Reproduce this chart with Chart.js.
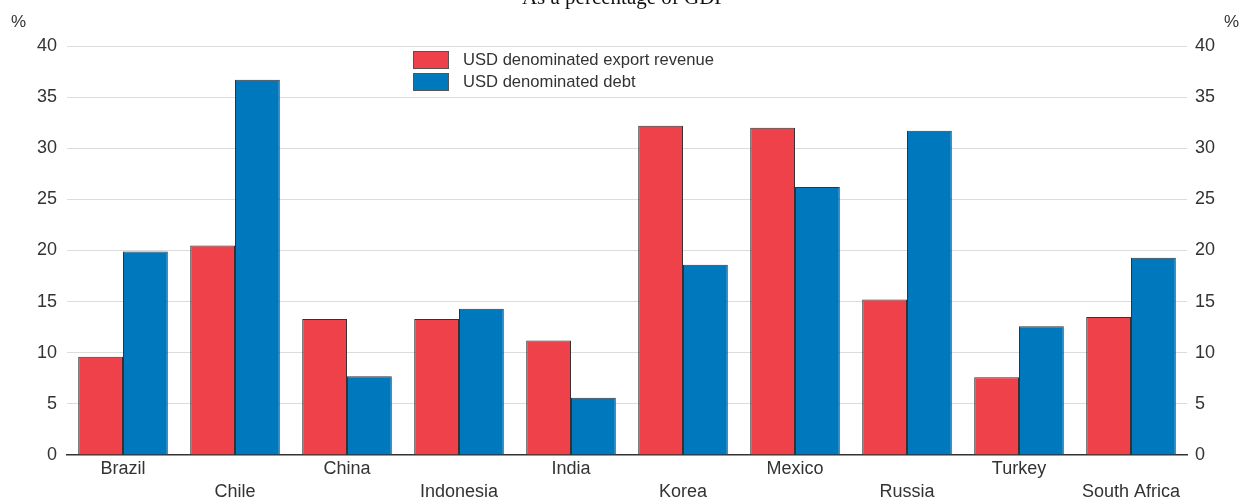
<!DOCTYPE html>
<html>
<head>
<meta charset="utf-8">
<title>USD exposure</title>
<script src="https://cdn.jsdelivr.net/npm/chart.js@4.4.1/dist/chart.umd.min.js"></script>
<style>
    html, body {
        margin: 0;
        padding: 0;
        background: #ffffff;
    }
    #chartWrap {
        position: relative;
        width: 1240px;
        height: 499px;
    }
</style>
</head>
<body>
<div id="chartWrap">
    <canvas id="usdChart"></canvas>
</div>
<script>
const countries = [
    "Brazil", "Chile", "China", "Indonesia", "India",
    "Korea", "Mexico", "Russia", "Turkey", "South Africa"
];

const exportRevenue = [9.6, 20.5, 13.3, 13.3, 11.2, 32.2, 32.0, 15.2, 7.6, 13.5];
const debt = [19.9, 36.7, 7.7, 14.3, 5.6, 18.6, 26.2, 31.7, 12.6, 19.3];

const yTicks = [0, 5, 10, 15, 20, 25, 30, 35, 40];

const titleText = "As a percentage of GDP";
const unitText = "%";

const redFill = "#ee4149";
const blueFill = "#0078bd";
const textColor = "#333333";

/* Title, unit labels and legend drawn straight on the canvas */

const decorations = {
    id: "decorations",
    afterDraw(chart) {
        const ctx = chart.ctx;
        ctx.save();

        ctx.fillStyle = "#111111";
        ctx.font = "21px 'Liberation Serif', serif";
        ctx.textAlign = "center";
        ctx.textBaseline = "alphabetic";
        ctx.fillText(titleText, 624, 4);

        ctx.fillStyle = textColor;
        ctx.font = "17px 'Liberation Sans', Arial, sans-serif";
        ctx.textBaseline = "middle";
        ctx.textAlign = "left";
        ctx.fillText(unitText, 11, 22);
        ctx.textAlign = "right";
        ctx.fillText(unitText, 1239, 22);

        chart.data.datasets.forEach((ds, i) => {
            const y = 51 + i * 22;
            ctx.fillStyle = ds.backgroundColor;
            ctx.fillRect(413, y, 35, 17);
            ctx.strokeStyle = "#555555";
            ctx.lineWidth = 1;
            ctx.strokeRect(413.5, y + 0.5, 35, 17);
            ctx.fillStyle = textColor;
            ctx.textAlign = "left";
            ctx.font = "16.6px 'Liberation Sans', Arial, sans-serif";
            ctx.fillText(ds.label, 463, y + 9);
        });

        ctx.restore();
    }
};

const tickFont = {
    family: "'Liberation Sans', Arial, sans-serif",
    size: 18
};

new Chart(document.querySelector("#usdChart"), {
    type: "bar",
    data: {
        labels: countries,
        datasets: [
            {
                label: "USD denominated export revenue",
                data: exportRevenue,
                backgroundColor: redFill,
                borderColor: "#333333",
                borderWidth: 1,
                yAxisID: "y"
            },
            {
                label: "USD denominated debt",
                data: debt,
                backgroundColor: blueFill,
                borderColor: "#333333",
                borderWidth: 1,
                yAxisID: "y"
            }
        ]
    },
    options: {
        responsive: true,
        maintainAspectRatio: false,
        animation: false,
        layout: {
            padding: { top: 46, left: 0, right: 0, bottom: 0 }
        },
        datasets: {
            bar: {
                categoryPercentage: 0.8,
                barPercentage: 1.0
            }
        },
        plugins: {
            legend: { display: false },
            tooltip: { enabled: false }
        },
        scales: {
            x: {
                grid: { display: false, drawTicks: false },
                border: { display: true, color: "#333333", width: 1.5 },
                ticks: {
                    color: textColor,
                    font: { ...tickFont, lineHeight: 1.25 },
                    padding: 3,
                    maxRotation: 0,
                    autoSkip: false,
                    callback: (value, index) =>
                        index % 2 ? ["", countries[index]] : countries[index]
                },
                afterFit: scale => { scale.height = 44; }
            },
            y: {
                position: "left",
                min: 0,
                max: 40,
                afterBuildTicks: scale => {
                    scale.ticks = yTicks.map(v => ({ value: v }));
                },
                grid: {
                    color: ctx => ctx.tick.value === 0 ? "rgba(0,0,0,0)" : "#dcdcdc",
                    lineWidth: 1,
                    drawTicks: false
                },
                border: { display: false },
                ticks: {
                    color: textColor,
                    font: tickFont,
                    padding: 10
                },
                afterFit: scale => { scale.width = 67; }
            },
            y2: {
                position: "right",
                min: 0,
                max: 40,
                afterBuildTicks: scale => {
                    scale.ticks = yTicks.map(v => ({ value: v }));
                },
                grid: { display: false, drawTicks: false },
                border: { display: false },
                ticks: {
                    color: textColor,
                    font: tickFont,
                    padding: 8
                },
                afterFit: scale => { scale.width = 53; }
            }
        }
    },
    plugins: [decorations]
});
</script>
</body>
</html>
